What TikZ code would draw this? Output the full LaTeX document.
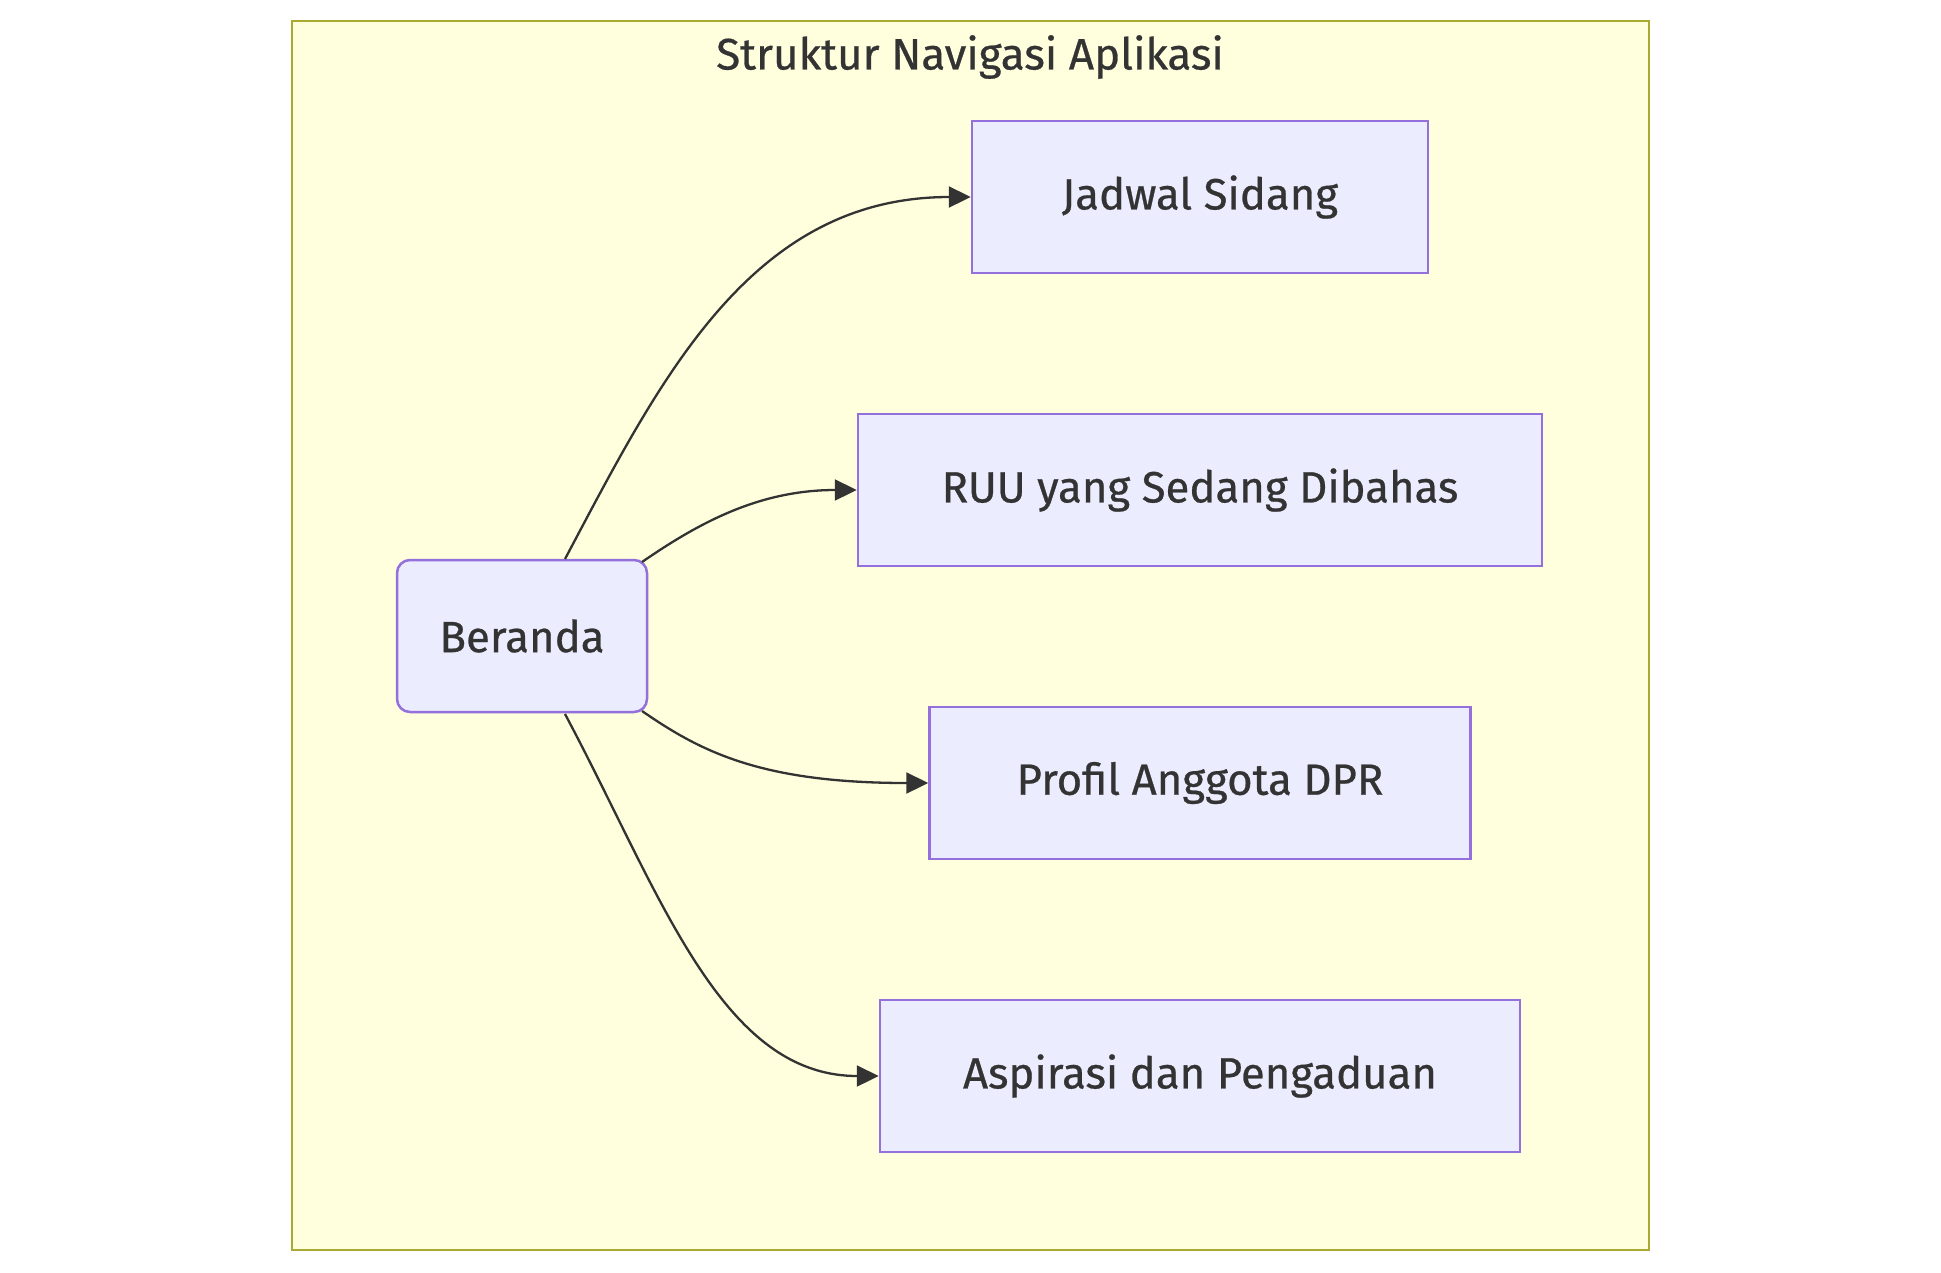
\documentclass[tikz,border=0pt]{standalone}
\usepackage{fontspec}
\setmainfont{Fira Sans}[FakeBold=0.6]
\newfontfamily\labelfont{Fira Sans}[FakeBold=0.6]
\usetikzlibrary{arrows.meta}
\definecolor{clusterfill}{HTML}{FFFFDE}
\definecolor{clusterline}{HTML}{AAAA33}
\definecolor{nodefill}{HTML}{ECECFF}
\definecolor{nodeline}{HTML}{9370DB}
\definecolor{txt}{HTML}{333333}
\tikzset{
  navbox/.style={draw=nodeline, fill=nodefill, line width=2.5pt, text=txt,
    minimum height=152pt, inner sep=0pt, font=\labelfont\fontsize{43.7}{52}\selectfont},
  homebox/.style={navbox, rounded corners=13pt},
  link/.style={draw=txt, line width=2.3pt, -{Triangle[length=22pt,width=21pt]}},
}
\begin{document}
\begin{tikzpicture}[x=1pt,y=-1pt]
\useasboundingbox (0,0) rectangle (1941,1272);
\fill[white] (0,0) rectangle (1941,1272);
\draw[draw=clusterline, fill=clusterfill, line width=2.5pt] (292,21) rectangle (1649,1250);
\node[text=txt, font=\labelfont\fontsize{44}{52}\selectfont] (title) at (970,57) {Struktur Navigasi Aplikasi};

\node[homebox, minimum width=250pt] (home) at (522,636) {Beranda};
\node[navbox, minimum width=456pt] (jadwal) at (1200,197) {Jadwal Sidang};
\node[navbox, minimum width=684pt] (ruu) at (1200,490) {RUU yang Sedang Dibahas};
\node[navbox, minimum width=541pt] (profil) at (1200,783) {Profil Anggota DPR};
\node[navbox, minimum width=640pt] (aspirasi) at (1200,1076) {Aspirasi dan Pengaduan};

\coordinate (h1) at (565,559);
\coordinate (h2) at (642,562);
\coordinate (h3) at (642,711);
\coordinate (h4) at (565,714);

\draw[link] (h1) .. controls (660,380) and (750,197) .. (jadwal.west);
\draw[link] (h2) .. controls (700,522) and (760,490) .. (ruu.west);
\draw[link] (h3) .. controls (700,751) and (760,783) .. (profil.west);
\draw[link] (h4) .. controls (660,892) and (720,1076) .. (aspirasi.west);
\end{tikzpicture}
\end{document}
